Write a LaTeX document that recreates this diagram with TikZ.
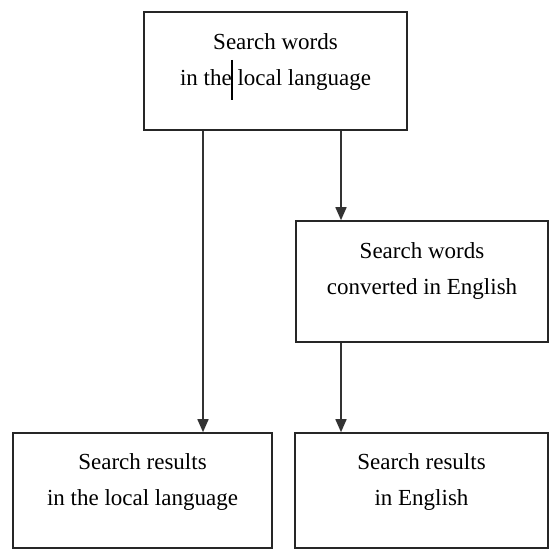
\documentclass[tikz,border=0pt]{standalone}
\usepackage{fontspec}
\setmainfont{Liberation Serif}
\usetikzlibrary{arrows.meta}
\begin{document}
\begin{tikzpicture}[x=1pt, y=-1pt, line width=1.6pt,
    box/.style={draw=black!85, rectangle, inner sep=0pt},
    txt/.style={align=center, font=\fontsize{23}{36}\selectfont},
    arr/.style={draw=black!80, -{Triangle[length=13pt,width=11pt]}}]
  \useasboundingbox (0,0) rectangle (550,551);
  \node[box, minimum width=263, minimum height=118] (top) at (275.5,71) {};
  \node[box, minimum width=252, minimum height=121] (mid) at (422,281.5) {};
  \node[box, minimum width=259, minimum height=115] (bl) at (142.5,490.5) {};
  \node[box, minimum width=253, minimum height=115] (br) at (421.5,490.5) {};
  \node[txt] (top-t) at ([yshift=9]top.center) {Search words\\in the local language};
  \node[txt] (mid-t) at ([yshift=11]mid.center) {Search words\\converted in English};
  \node[txt] (bl-t) at ([yshift=9]bl.center) {Search results\\in the local language};
  \node[txt] (br-t) at ([yshift=9]br.center) {Search results\\in English};
  \draw[line width=1.3pt] (232,60) -- (232,100);
  \draw[arr] ([xshift=-72.5]top.south) -- ([xshift=-72.5]top.south |- bl.north);
  \draw[arr] ([xshift=65.5]top.south) -- ([xshift=65.5]top.south |- mid.north);
  \draw[arr] ([xshift=-81]mid.south) -- ([xshift=-81]mid.south |- br.north);
\end{tikzpicture}
\end{document}
